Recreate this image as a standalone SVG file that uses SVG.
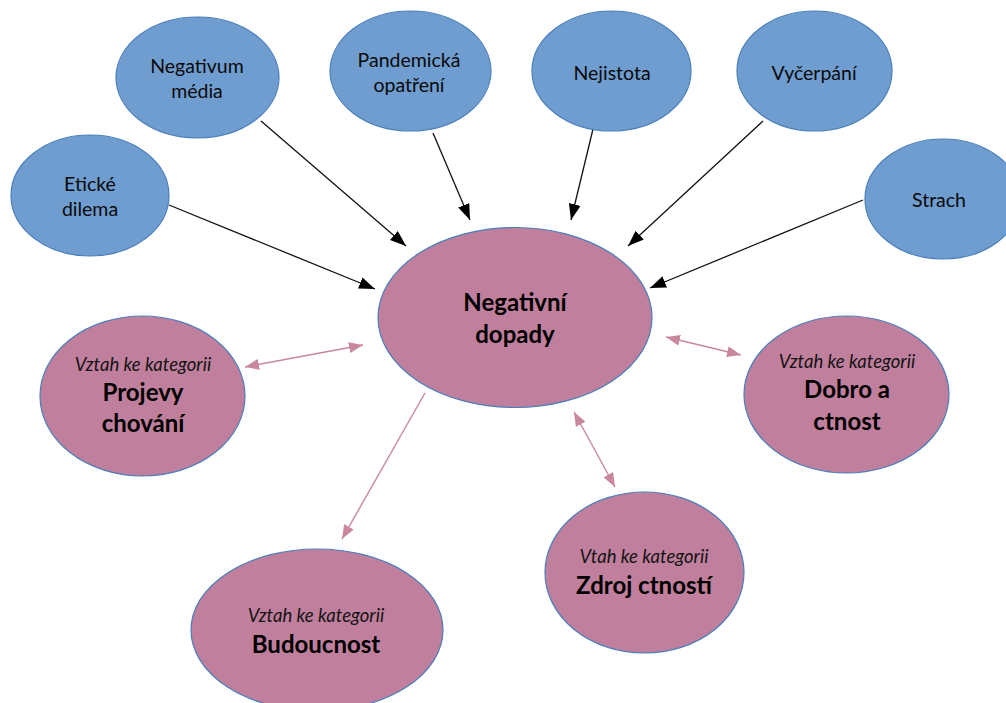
<svg xmlns="http://www.w3.org/2000/svg" width="1006" height="703" viewBox="0 0 1006 703">
  <style>
    .blue { fill: #6f9dcf; stroke: #4a7ebb; stroke-width: 1.2; }
    .rose { fill: #c07f9c; stroke: #4a7ebb; stroke-width: 1.2; }
    .lbl { font-family: Lato, "Liberation Sans", sans-serif; font-size: 19.5px; fill: #0a0a0a; text-anchor: middle; }
    .ital { font-family: Lato, "Liberation Sans", sans-serif; font-style: italic; font-size: 18.5px; fill: #141414; text-anchor: middle; }
    .bold { font-family: Lato, "Liberation Sans", sans-serif; font-weight: bold; font-size: 24px; fill: #000; text-anchor: middle; }
    .dark { stroke: #111; stroke-width: 1.3; fill: none; }
    .pink { stroke: #c9879f; stroke-width: 1.4; fill: none; }
  </style>
  <defs>
    <marker id="head-dark" viewBox="0 0 16 12" refX="16" refY="6" markerWidth="16" markerHeight="12" markerUnits="userSpaceOnUse" orient="auto">
      <path d="M0,0 L16,6 L0,12 z" fill="#000"/>
    </marker>
    <marker id="head-pink" viewBox="0 0 14 11" refX="14" refY="5.5" markerWidth="14" markerHeight="11" markerUnits="userSpaceOnUse" orient="auto-start-reverse">
      <path d="M0,0 L14,5.5 L0,11 z" fill="#c9879f"/>
    </marker>
  </defs>

  <rect width="1006" height="703" fill="#fff"/>

  <!-- connectors -->
  <g id="connectors">
    <line class="dark" x1="169" y1="205" x2="375" y2="289" marker-end="url(#head-dark)"/>
    <line class="dark" x1="261" y1="121" x2="406" y2="246" marker-end="url(#head-dark)"/>
    <line class="dark" x1="433" y1="133" x2="470" y2="220" marker-end="url(#head-dark)"/>
    <line class="dark" x1="593" y1="129" x2="571" y2="220" marker-end="url(#head-dark)"/>
    <line class="dark" x1="763" y1="121" x2="628" y2="246" marker-end="url(#head-dark)"/>
    <line class="dark" x1="863" y1="200" x2="650" y2="288" marker-end="url(#head-dark)"/>
    <line class="pink" x1="245" y1="367" x2="363" y2="345" marker-start="url(#head-pink)" marker-end="url(#head-pink)"/>
    <line class="pink" x1="425" y1="393" x2="342" y2="539" marker-end="url(#head-pink)"/>
    <line class="pink" x1="666" y1="337" x2="741" y2="355" marker-start="url(#head-pink)" marker-end="url(#head-pink)"/>
    <line class="pink" x1="574" y1="412" x2="615" y2="487" marker-start="url(#head-pink)" marker-end="url(#head-pink)"/>
  </g>

  <g id="eticke-dilema">
    <ellipse class="blue" cx="90" cy="195.5" rx="79" ry="60.5"/>
    <text class="lbl" x="90" y="191">Etické</text>
    <text class="lbl" x="90" y="216">dilema</text>
  </g>

  <g id="negativum-media">
    <ellipse class="blue" cx="197.5" cy="77.5" rx="81.5" ry="60.5"/>
    <text class="lbl" x="197" y="73">Negativum</text>
    <text class="lbl" x="197" y="98">média</text>
  </g>

  <g id="pandemicka-opatreni">
    <ellipse class="blue" cx="410.5" cy="71" rx="80.5" ry="60"/>
    <text class="lbl" x="409" y="67">Pandemická</text>
    <text class="lbl" x="409" y="92">opatření</text>
  </g>

  <g id="nejistota">
    <ellipse class="blue" cx="611.5" cy="71" rx="79.5" ry="60"/>
    <text class="lbl" x="612" y="80">Nejistota</text>
  </g>

  <g id="vycerpani">
    <ellipse class="blue" cx="814.5" cy="71" rx="77.5" ry="60"/>
    <text class="lbl" x="814" y="80">Vyčerpání</text>
  </g>

  <g id="strach">
    <ellipse class="blue" cx="943" cy="199" rx="78" ry="60"/>
    <text class="lbl" x="939" y="207">Strach</text>
  </g>

  <g id="negativni-dopady">
    <ellipse class="rose" cx="515" cy="317.5" rx="137" ry="90"/>
    <text class="bold" x="515" y="311">Negativní</text>
    <text class="bold" x="515" y="343">dopady</text>
  </g>

  <g id="projevy-chovani">
    <ellipse class="rose" cx="142.5" cy="396" rx="102.5" ry="80"/>
    <text class="ital" x="143" y="371">Vztah ke kategorii</text>
    <text class="bold" x="143" y="401">Projevy</text>
    <text class="bold" x="143" y="432">chování</text>
  </g>

  <g id="dobro-a-ctnost">
    <ellipse class="rose" cx="846.5" cy="394.5" rx="102.5" ry="78.5"/>
    <text class="ital" x="847" y="368">Vztah ke kategorii</text>
    <text class="bold" x="847" y="398">Dobro a</text>
    <text class="bold" x="847" y="430">ctnost</text>
  </g>

  <g id="zdroj-ctnosti">
    <ellipse class="rose" cx="644.5" cy="572.5" rx="99.5" ry="80.5"/>
    <text class="ital" x="644" y="563">Vtah ke kategorii</text>
    <text class="bold" x="644" y="594">Zdroj ctností</text>
  </g>

  <g id="budoucnost">
    <ellipse class="rose" cx="317" cy="630" rx="126" ry="81"/>
    <text class="ital" x="316" y="622">Vztah ke kategorii</text>
    <text class="bold" x="316" y="653">Budoucnost</text>
  </g>
</svg>
